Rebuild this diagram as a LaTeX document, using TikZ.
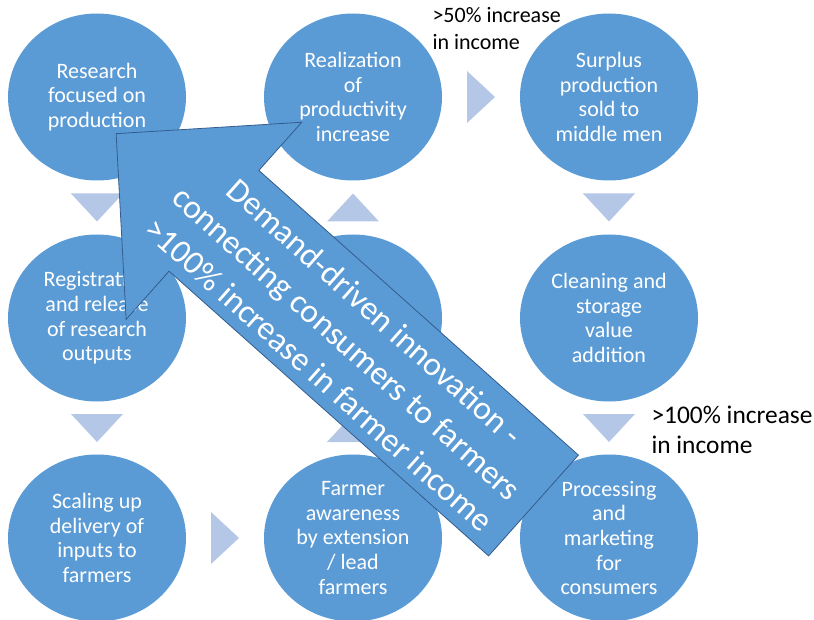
\documentclass[tikz,border=0pt]{standalone}
\usepackage{fontspec}
\setmainfont{Carlito}
\usetikzlibrary{shapes.geometric,calc}
\definecolor{cblue}{RGB}{91,155,213}
\definecolor{ctri}{RGB}{180,199,231}
\definecolor{cline}{RGB}{52,92,140}
\begin{document}
\begin{tikzpicture}[x=1pt,y=-1pt,
  stage/.style={ellipse, fill=cblue, minimum width=178pt, minimum height=167pt,
    inner xsep=0pt, inner ysep=-4pt, text=white, align=center,
    font=\fontsize{22}{24.7}\selectfont},
  note/.style={anchor=base west, align=left, text=black},
  bigarrow/.style={fill=cblue, draw=cline, line width=0.8pt, line join=miter},
  bigtext/.style={text=white, align=center, font=\fontsize{33.5}{42}\selectfont, rotate=-41.7},
  tri/.pic={\fill[ctri] (14,0) -- (-14,-26) -- (-14,26) -- cycle;}
]
\useasboundingbox (0,0) rectangle (814,620);
% stages
\node[stage] (research) at (97,97)  {Research\\focused on\\production};
\node[stage] (real)     at (353,97) {Realization\\of\\productivity\\increase};
\node[stage] (surplus)  at (609,97) {Surplus\\production\\sold to\\middle men};
\node[stage] (reg)      at (97,318) {Registration\\and release\\of research\\outputs};
\node[stage] (mid)      at (353,318) {};
\node[stage] (clean)    at (609,318) {Cleaning and\\storage\\value\\addition};
\node[stage] (scale)    at (97,538) {Scaling up\\delivery of\\inputs to\\farmers};
\node[stage] (farmer)   at (353,538) {Farmer\\awareness\\by extension\\/ lead\\farmers};
\node[stage] (proc)     at (609,538) {Processing\\and\\marketing\\for\\consumers};
% flow triangles
\pic[rotate=-90] at ($(research)!0.5!(reg)$) {tri};
\pic[rotate=-90] at ($(reg)!0.5!(scale)$) {tri};
\pic at ($(scale)!0.5!(farmer)$) {tri};
\pic[rotate=90] at ($(farmer)!0.5!(mid)$) {tri};
\pic[rotate=90] at ($(mid)!0.5!(real)$) {tri};
\pic at ($(real)!0.5!(surplus)$) {tri};
\pic[rotate=-90] at ($(surplus)!0.5!(clean)$) {tri};
\pic[rotate=-90] at ($(clean)!0.5!(proc)$) {tri};
% big arrow
\begin{scope}[shift={(533.5,505.5)}, rotate=138.3]
  \draw[bigarrow] (0,67.5) -- (428,67.5) -- (428,132) -- (559,0) -- (428,-132)
    -- (428,-67.5) -- (0,-67.5) -- cycle;
\end{scope}
\node[bigtext] (demand) at (347,343) {Demand-driven innovation -\\connecting consumers to farmers\\>100\% increase in farmer income};
% notes (anchor = baseline of last line)
\node[note, font=\fontsize{22}{27}\selectfont] (n50) at (429,50) {>50\% increase\\in income};
\node[note, font=\fontsize{25.4}{30}\selectfont] (n100) at (648,453) {>100\% increase\\in income};
\end{tikzpicture}
\end{document}
